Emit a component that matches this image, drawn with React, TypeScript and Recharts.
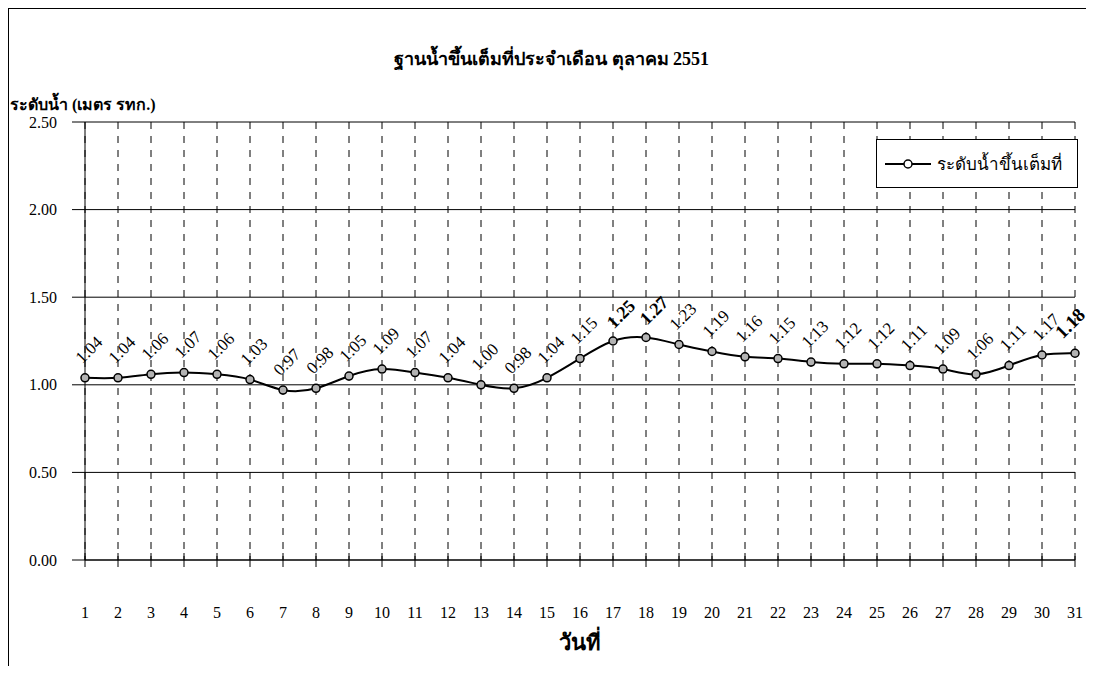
import React from "react";
import {
  LineChart,
  Line,
  XAxis,
  YAxis,
  CartesianGrid,
  LabelList,
  Legend,
} from "recharts";

const days = [1, 2, 3, 4, 5, 6, 7, 8, 9, 10, 11, 12, 13, 14, 15, 16, 17, 18, 19, 20, 21, 22, 23, 24, 25, 26, 27, 28, 29, 30, 31];
const levels = [
  1.04, 1.04, 1.06, 1.07, 1.06, 1.03, 0.97, 0.98, 1.05, 1.09, 1.07, 1.04, 1.0, 0.98, 1.04, 1.15,
  1.25, 1.27, 1.23, 1.19, 1.16, 1.15, 1.13, 1.12, 1.12, 1.11, 1.09, 1.06, 1.11, 1.17, 1.18,
];
const yTicks = [0, 0.5, 1, 1.5, 2, 2.5];
const boldDays = [17, 18, 31];
const bigDays = [31];

const seriesName = "ระดับน้ำขึ้นเต็มที่";
const title = "ฐานน้ำขึ้นเต็มที่ประจำเดือน ตุลาคม 2551";
const yTitle = "ระดับน้ำ (เมตร รทก.)";
const xTitle = "วันที่";

const data = days.map((d, i) => ({ day: d, level: levels[i] }));

const FONT = "'Times New Roman', 'Liberation Serif', serif";

const DayTick = (props: any) => {
  const { x, y, payload } = props;
  return (
    <g>
      <line x1={x} x2={x} y1={y - 7} y2={y + 7} stroke="#000" strokeWidth={1} />
      <text x={x} y={y + 58} textAnchor="middle" fontSize={16} fontFamily={FONT} fill="#000">
        {payload.value}
      </text>
    </g>
  );
};

const ValueLabel = (props: any) => {
  const { x, y, value, index } = props;
  const day = days[index];
  const bold = boldDays.includes(day);
  const big = bigDays.includes(day);
  // the last label sits against the right edge of the frame
  const cx = x + (big ? -5 : bold ? 8 : 4);
  const cy = y - (big ? 30 : bold ? 27 : 28);
  return (
    <text
      x={cx}
      y={cy}
      transform={`rotate(-45 ${cx} ${cy})`}
      textAnchor="middle"
      dominantBaseline="central"
      fontSize={big ? 19 : bold ? 18 : 17}
      fontWeight={bold ? "bold" : "normal"}
      fontFamily={FONT}
      fill="#000"
    >
      {Number(value).toFixed(2)}
    </text>
  );
};

const LegendBox = () => (
  <div
    style={{
      border: "1px solid #000",
      background: "#fff",
      width: 202,
      height: 49,
      boxSizing: "border-box",
      display: "flex",
      alignItems: "center",
      fontFamily: FONT,
      fontSize: 17,
      whiteSpace: "nowrap",
    }}
  >
    <svg width={50} height={14} style={{ marginLeft: 7, flex: "none" }}>
      <line x1={1} x2={47} y1={7} y2={7} stroke="#000" strokeWidth={2} />
      <circle cx={24} cy={7} r={4} fill="#fff" stroke="#000" strokeWidth={1.5} />
    </svg>
    <span style={{ marginLeft: 3 }}>{seriesName}</span>
  </div>
);

export default function App() {
  return (
    <div
      style={{
        position: "relative",
        width: 1086,
        height: 658,
        borderTop: "1px solid #000",
        borderLeft: "1px solid #000",
        boxSizing: "border-box",
        fontFamily: FONT,
        background: "#fff",
      }}
    >
      <div
        style={{
          position: "absolute",
          top: 35,
          left: 0,
          width: 1085,
          textAlign: "center",
          fontWeight: "bold",
          fontSize: 18,
        }}
      >
        {title}
      </div>
      <div style={{ position: "absolute", top: 83, left: 1, fontWeight: "bold", fontSize: 16 }}>
        {yTitle}
      </div>
      <div
        style={{
          position: "absolute",
          top: 616,
          left: 571,
          transform: "translateX(-50%)",
          fontWeight: "bold",
          fontSize: 22,
        }}
      >
        {xTitle}
      </div>
      <div style={{ position: "absolute", top: 0, left: 0 }}>
        <LineChart
          width={1085}
          height={657}
          data={data}
          margin={{ top: 113, right: 19, left: 0, bottom: 0 }}
        >
          <CartesianGrid horizontal={false} stroke="#000" strokeDasharray="7 7" />
          <CartesianGrid vertical={false} stroke="#000" />
          <XAxis
            dataKey="day"
            type="number"
            domain={[1, 31]}
            ticks={days}
            interval={0}
            height={106}
            tickSize={0}
            tickMargin={0}
            tickLine={false}
            axisLine={{ stroke: "#000" }}
            tick={<DayTick />}
          />
          <YAxis
            domain={[0, 2.5]}
            ticks={yTicks}
            width={76}
            interval={0}
            tickSize={13}
            tickMargin={15}
            tickLine={{ stroke: "#000" }}
            axisLine={{ stroke: "#000" }}
            tickFormatter={(v: number) => v.toFixed(2)}
            tick={{ fill: "#000", fontSize: 16, fontFamily: FONT }}
          />
          <Legend
            layout="vertical"
            align="center"
            verticalAlign="middle"
            wrapperStyle={{ left: 867, top: 130, width: 202 }}
            content={() => <LegendBox />}
          />
          <Line
            dataKey="level"
            name={seriesName}
            type="natural"
            stroke="#000"
            strokeWidth={2}
            dot={{ r: 4, fill: "#b3b3b3", stroke: "#000", strokeWidth: 1.5 }}
            activeDot={false}
            isAnimationActive={false}
          >
            <LabelList dataKey="level" content={<ValueLabel />} />
          </Line>
        </LineChart>
      </div>
    </div>
  );
}
